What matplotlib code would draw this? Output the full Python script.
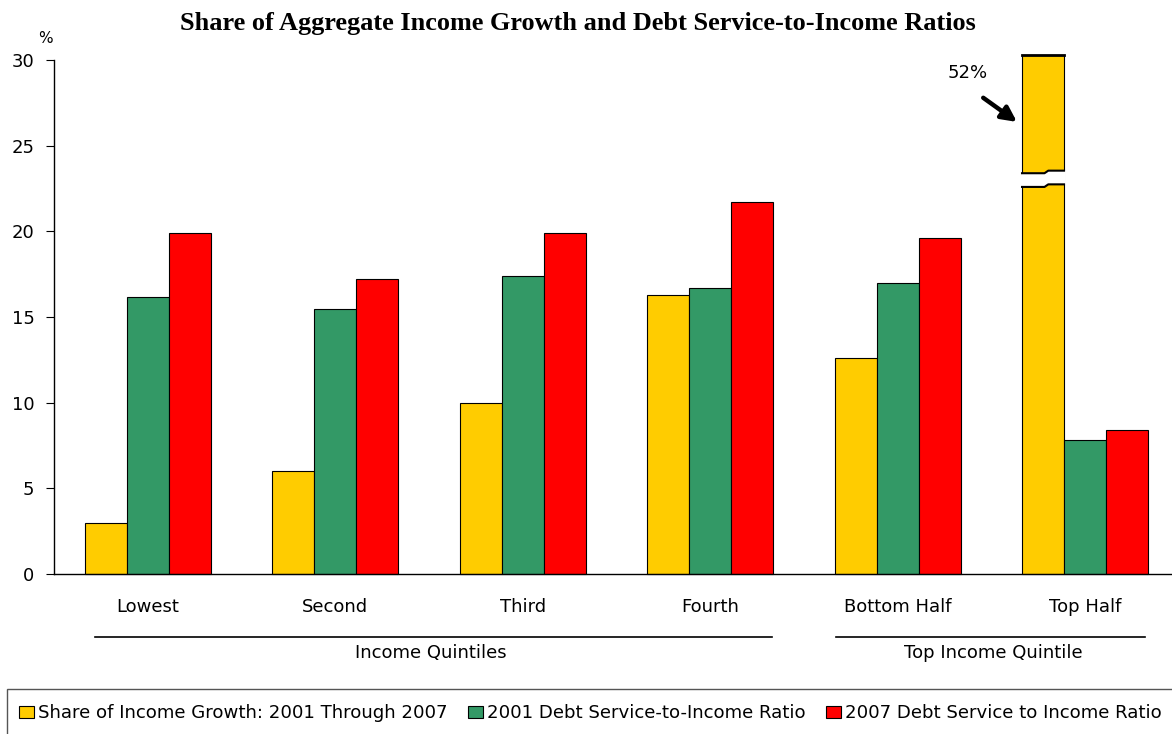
import numpy as np
import matplotlib.pyplot as plt
from matplotlib.patches import Patch, Polygon, Rectangle

categories = ["Lowest", "Second", "Third", "Fourth", "Bottom Half", "Top Half"]
income_growth = [3.0, 6.0, 10.0, 16.3, 12.6, 52.0]
dsr_2001 = [16.2, 15.5, 17.4, 16.7, 17.0, 7.8]
dsr_2007 = [19.9, 17.2, 19.9, 21.7, 19.6, 8.4]
series_names = ["Share of Income Growth: 2001 Through 2007",
                "2001 Debt Service-to-Income Ratio",
                "2007 Debt Service to Income Ratio"]
colors = ["#FFCC00", "#339966", "#FF0000"]
groups = [("Income Quintiles", 0, 3), ("Top Income Quintile", 4, 5)]
bracket_pads = [(0.28, 0.33), (0.328, 0.32)]

ymax = 30
cap = 30.3  # broken bar is drawn up to here

fig = plt.figure(figsize=(11.72, 7.34), dpi=100)
ax = fig.add_axes([0.046, 0.218, 0.954, 0.700])

x = np.arange(len(categories))
w = 0.224
for i, (vals, c) in enumerate(zip([income_growth, dsr_2001, dsr_2007], colors)):
    shown = [min(v, cap) for v in vals]
    ax.bar(x + (i - 1) * w, shown, w, color=c, edgecolor="black", linewidth=0.8,
           clip_on=False, zorder=2)

# axis break on the tall bar
bi = int(np.argmax(income_growth))
left = bi - w - w / 2
right = bi - w + w / 2
bx0, bx1 = left - 0.01, right + 0.01
st = left + 0.12
lo, hi = 22.6, 23.55
d = 0.15
ax.add_patch(Polygon([(bx0, lo), (st, lo), (st + 0.02, lo + d), (bx1, lo + d),
                      (bx1, hi), (st + 0.02, hi), (st, hi - d), (bx0, hi - d)],
                     closed=True, facecolor="white", edgecolor="none", zorder=3))
ax.plot([left, st, st + 0.02, right], [lo, lo, lo + d, lo + d],
        color="black", lw=1.5, zorder=4)
ax.plot([left, st, st + 0.02, right], [hi - d, hi - d, hi, hi],
        color="black", lw=1.5, zorder=4)
ax.plot([left, right], [cap, cap], color="black", lw=2, clip_on=False, zorder=4)

ax.annotate("", xy=(left - 0.015, 26.3), xytext=(bi - 0.555, 27.9),
            arrowprops=dict(arrowstyle="-|>,head_width=0.45,head_length=0.9", color="black", lw=3.2))
ax.text(bi - 0.625, 29.25, "52%", fontsize=13, ha="center", va="center")

ax.set_xlim(-0.5, 5.464)
ax.set_ylim(0, ymax)
ax.set_yticks(range(0, 31, 5))
ax.tick_params(axis="y", direction="out", length=6, labelsize=13, pad=8)
ax.tick_params(axis="x", length=0, labelsize=13, pad=17)
ax.set_xticks(x)
ax.set_xticklabels(categories)
ax.spines["top"].set_visible(False)
ax.spines["right"].set_visible(False)
for s in ["left", "bottom"]:
    ax.spines[s].set_linewidth(1)
ax.text(-0.545, 30.8, "%", fontsize=11, ha="center", va="bottom")

# group brackets
for (name, a, b), (pl, pr) in zip(groups, bracket_pads):
    ax.plot([a - pl, b + pr], [-3.65, -3.65], color="black", lw=1.2, clip_on=False)
    ax.text((a + b) / 2 + 0.01, -4.6, name, fontsize=13, ha="center", va="center")

fig.suptitle("Share of Aggregate Income Growth and Debt Service-to-Income Ratios",
             fontfamily="Liberation Serif", fontweight="bold", fontsize=18.9, x=0.493, y=0.983)

# legend box runs off the bottom/right edge
fig.patches.append(Rectangle((0.006, -0.05), 1.0, 0.111, transform=fig.transFigure,
                             facecolor="white", edgecolor="#555555", linewidth=1))
handles = [Patch(facecolor=c, edgecolor="black", linewidth=0.8) for c in colors]
leg = fig.legend(handles, series_names, loc="center left", bbox_to_anchor=(0.0165, 0.028),
                 ncol=3, fontsize=13.1, frameon=False,
                 handlelength=0.82, handleheight=0.7, handletextpad=0.2, columnspacing=1.15,
                 borderpad=0, borderaxespad=0)

fig.savefig("out.png", dpi=100)
